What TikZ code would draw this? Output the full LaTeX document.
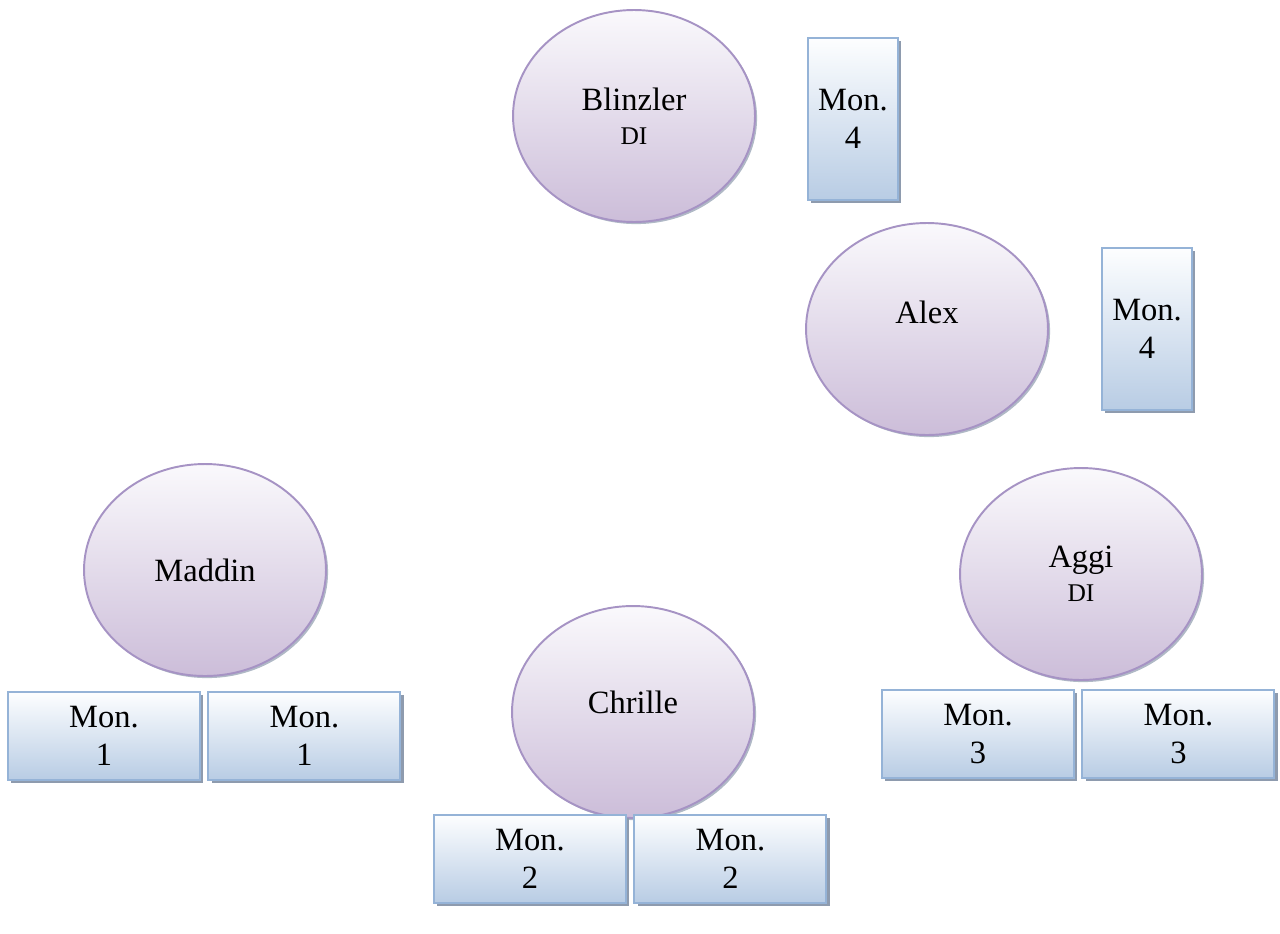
\documentclass[tikz,border=0pt]{standalone}
\usepackage{fontspec}
\setmainfont{Liberation Serif}
\usetikzlibrary{shapes.geometric,positioning,shadows}

\definecolor{persontop}{HTML}{FAF9FC}
\definecolor{personbot}{HTML}{CCBDD9}
\definecolor{personline}{HTML}{A693C4}
\definecolor{montop}{HTML}{FDFEFF}
\definecolor{monbot}{HTML}{B8CCE4}
\definecolor{monline}{HTML}{95B3D7}
\definecolor{shadowgray}{HTML}{8E9BAE}

\tikzset{
  person/.style={ellipse, draw=personline, line width=1.1pt,
    top color=persontop, bottom color=personbot,
    minimum width=4.84cm, minimum height=4.24cm, align=center,
    font=\fontsize{18.5}{21.5}\selectfont,
    drop shadow={shadow xshift=1.2pt, shadow yshift=-1.2pt, fill=shadowgray, opacity=0.7}},
  monbox/.style={rectangle, draw=monline, line width=1.1pt,
    top color=montop, bottom color=monbot,
    minimum width=3.84cm, minimum height=1.76cm, align=center,
    font=\fontsize{18.5}{22}\selectfont,
    drop shadow={shadow xshift=1.8pt, shadow yshift=-1.8pt, fill=shadowgray, opacity=1}},
  monbox tall/.style={monbox, minimum width=1.8cm, minimum height=3.24cm},
}
\newcommand{\di}{\\[-2pt]{\fontsize{14.5}{17}\selectfont DI}}

\begin{document}
\begin{tikzpicture}[x=0.02cm, y=-0.02cm, node distance=0.13cm]
  \useasboundingbox (0,0) rectangle (1280,933);

  % people
  \node[person] (blinzler) at (634,116) {Blinzler\di};
  \node[person] (alex) at (927,329) {Alex\\[-2.5pt]};
  \node[person] (maddin) at (205,570) {Maddin};
  \node[person] (chrille) at (633,712) {Chrille\\[-10pt]};
  \node[person] (aggi) at (1081,574) {Aggi\di};

  % monitors
  \node[monbox tall] (monB) at (853,119) {Mon.\\4};
  \node[monbox tall] (monA) at (1147,329) {Mon.\\4};

  \node[monbox] (monM1) at (104,736) {Mon.\\1};
  \node[monbox, right=of monM1] (monM2) {Mon.\\1};

  \node[monbox] (monC1) at (530,859) {Mon.\\2};
  \node[monbox, right=of monC1] (monC2) {Mon.\\2};

  \node[monbox] (monG1) at (978,734) {Mon.\\3};
  \node[monbox, right=of monG1] (monG2) {Mon.\\3};
\end{tikzpicture}
\end{document}
